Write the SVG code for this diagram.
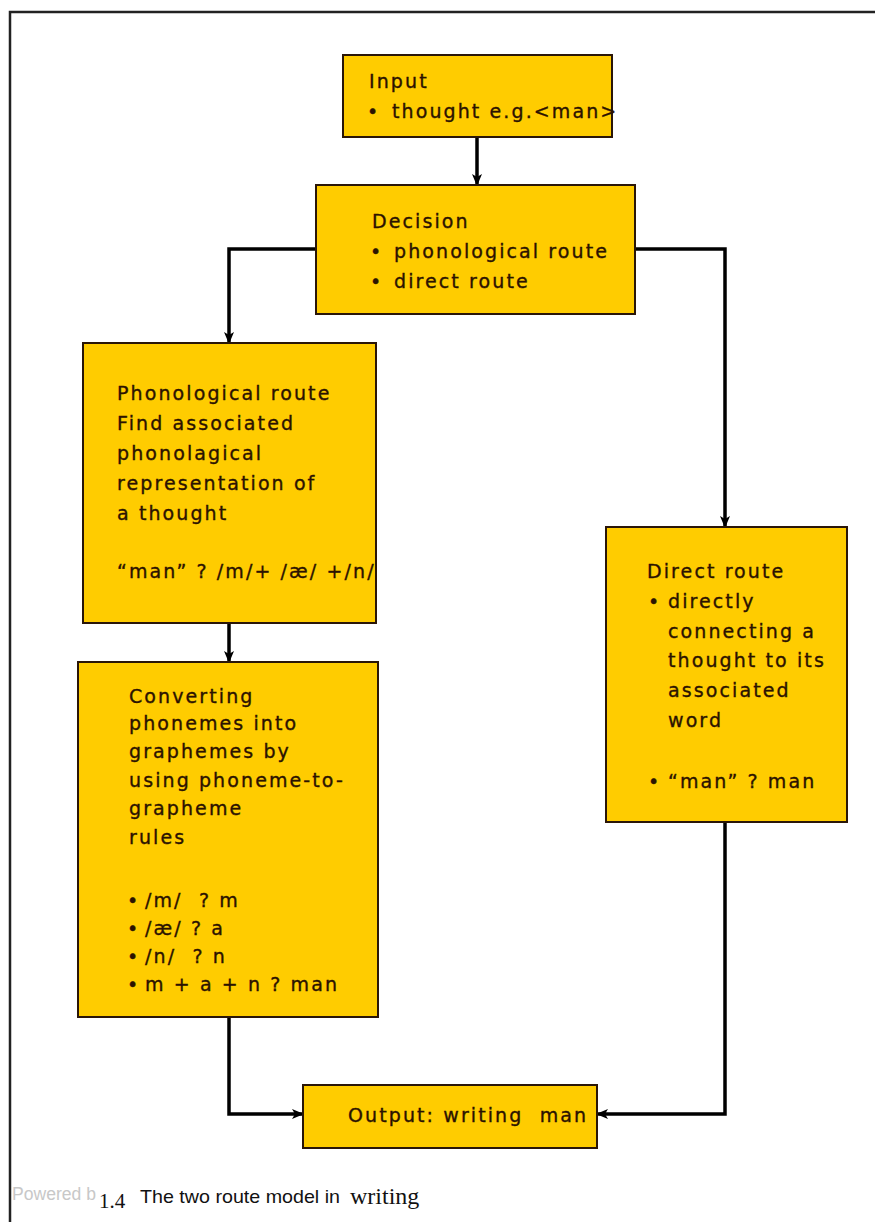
<svg xmlns="http://www.w3.org/2000/svg" width="875" height="1222" viewBox="0 0 875 1222">
  <style>
    .box { fill: #FFCC00; stroke: #2a1608; stroke-width: 2; }
    .t { font-family: "DejaVu Sans", Verdana, sans-serif; font-size: 19px; letter-spacing: 2.1px; fill: #2b1200; stroke: #2b1200; stroke-width: 0.35px; }
    .link { fill: none; stroke: #000; stroke-width: 3.5; }
  </style>
  <defs>
    <marker id="arrow" markerUnits="userSpaceOnUse" markerWidth="12" markerHeight="10" refX="11" refY="5" orient="auto">
      <path d="M0,0 L12,5 L0,10 L3,5 z" fill="#000"/>
    </marker>
  </defs>

  <rect x="0" y="0" width="875" height="1222" fill="#ffffff"/>
  <!-- page frame -->
  <rect x="10" y="12" width="900" height="1260" fill="none" stroke="#222" stroke-width="2.5"/>

  <g id="connectors">
    <path class="link" d="M477,137 V185" marker-end="url(#arrow)"/>
    <path class="link" d="M316,249 H229 V343" marker-end="url(#arrow)"/>
    <path class="link" d="M635,249 H725 V527" marker-end="url(#arrow)"/>
    <path class="link" d="M229,623 V662" marker-end="url(#arrow)"/>
    <path class="link" d="M229,1017 V1114 H303" marker-end="url(#arrow)"/>
    <path class="link" d="M725,822 V1114 H597" marker-end="url(#arrow)"/>
  </g>

  <g id="input">
    <rect class="box" x="343" y="55" width="269" height="82"/>
    <text class="t" x="369" y="88">Input</text>
    <text class="t" x="367" y="118">•</text>
    <text class="t" x="392" y="118">thought e.g.&lt;man&gt;</text>
  </g>

  <g id="decision">
    <rect class="box" x="316" y="185" width="319" height="129"/>
    <text class="t" x="372" y="228">Decision</text>
    <text class="t" x="370" y="258">•</text>
    <text class="t" x="394" y="258">phonological route</text>
    <text class="t" x="370" y="288">•</text>
    <text class="t" x="394" y="288">direct route</text>
  </g>

  <g id="phonological">
    <rect class="box" x="83" y="343" width="293" height="280"/>
    <text class="t" x="117" y="400">Phonological route</text>
    <text class="t" x="117" y="430">Find associated</text>
    <text class="t" x="117" y="460">phonolagical</text>
    <text class="t" x="117" y="490">representation of</text>
    <text class="t" x="117" y="520">a thought</text>
    <text class="t" x="117" y="578">“man” ? /m/+ /æ/ +/n/</text>
  </g>

  <g id="converting">
    <rect class="box" x="78" y="662" width="300" height="355"/>
    <text class="t" x="129" y="703">Converting</text>
    <text class="t" x="129" y="730">phonemes into</text>
    <text class="t" x="129" y="758">graphemes by</text>
    <text class="t" x="129" y="787">using phoneme-to-</text>
    <text class="t" x="129" y="815">grapheme</text>
    <text class="t" x="129" y="844">rules</text>
    <text class="t" x="127" y="907">•</text>
    <text class="t" x="145" y="907" style="white-space:pre">/m/  ? m</text>
    <text class="t" x="127" y="935">•</text>
    <text class="t" x="145" y="935">/æ/ ? a</text>
    <text class="t" x="127" y="963">•</text>
    <text class="t" x="145" y="963" style="white-space:pre">/n/  ? n</text>
    <text class="t" x="127" y="991">•</text>
    <text class="t" x="145" y="991">m + a + n ? man</text>
  </g>

  <g id="direct">
    <rect class="box" x="606" y="527" width="241" height="295"/>
    <text class="t" x="647" y="578">Direct route</text>
    <text class="t" x="648" y="608">•</text>
    <text class="t" x="668" y="608">directly</text>
    <text class="t" x="668" y="638">connecting a</text>
    <text class="t" x="668" y="667">thought to its</text>
    <text class="t" x="668" y="697">associated</text>
    <text class="t" x="668" y="727">word</text>
    <text class="t" x="648" y="788">•</text>
    <text class="t" x="668" y="788">“man” ? man</text>
  </g>

  <g id="output">
    <rect class="box" x="303" y="1085" width="294" height="63"/>
    <text class="t" x="348" y="1122" style="white-space:pre">Output: writing  man</text>
  </g>

  <g id="caption">
    <text x="12" y="1200" font-family="Liberation Sans, Arial, sans-serif" font-size="18" fill="#c8c8c8" textLength="84" lengthAdjust="spacingAndGlyphs">Powered b</text>
    <text x="99" y="1208" font-family="Liberation Serif, Times New Roman, serif" font-size="21" fill="#111">1.4</text>
    <text x="140" y="1203" font-family="Liberation Sans, Arial, sans-serif" font-size="19" fill="#111" textLength="200" lengthAdjust="spacingAndGlyphs">The two route model in</text>
    <text x="350" y="1204" font-family="Liberation Serif, Times New Roman, serif" font-size="24" fill="#111">writing</text>
  </g>
</svg>
